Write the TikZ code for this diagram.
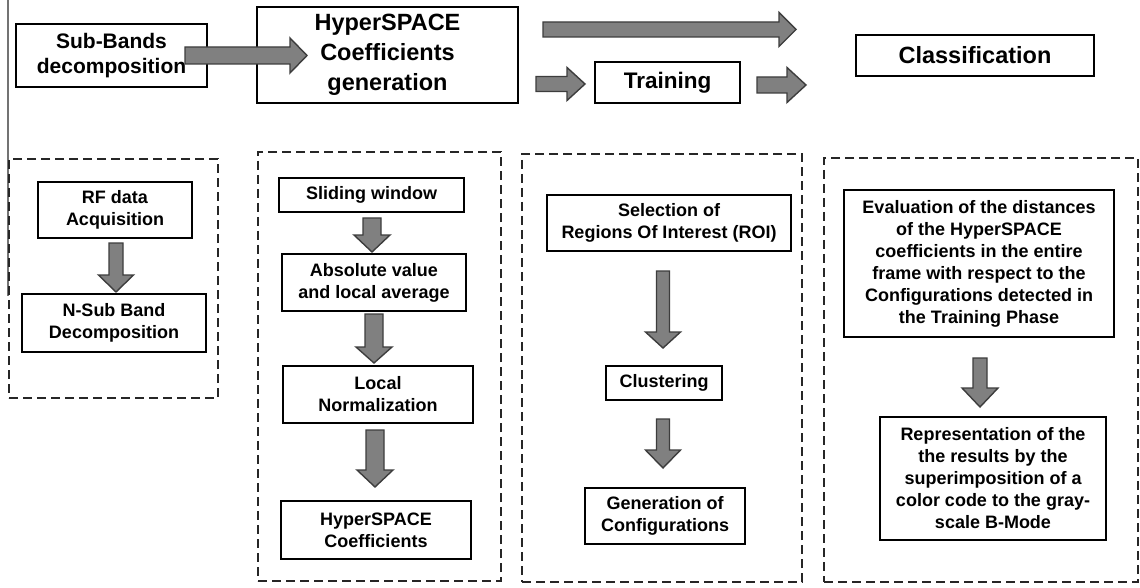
\documentclass[tikz,border=0pt]{standalone}
\usepackage{fontspec}
\setmainfont{Liberation Sans}
\usetikzlibrary{calc}
\tikzset{
  thickbox/.style={draw=black, line width=2pt, fill=white, inner sep=0pt, align=center,
    font=\bfseries\fontsize{18}{22}\selectfont},
  thinbox/.style={thickbox, line width=1.2pt},
  topbox/.style={thickbox, font=\bfseries\fontsize{21}{25}\selectfont},
  bigbox/.style={thickbox, font=\bfseries\fontsize{23.5}{30}\selectfont},
  phase/.style={draw=black!85, line width=2pt, dash pattern=on 9pt off 5pt, inner sep=0pt},
  blockarrow/.style={fill=black!50, draw=black!76, line width=1.4pt, line join=miter},
  edgeline/.style={draw=black!55, line width=1.5pt}
}
% horizontal block arrow: start, tip, body half, head half, head length
\newcommand\myharrow[5]{%
  \path[blockarrow] let \p1=(#1), \p2=(#2) in
    (\x1,\y1+#3) -- (\x2-#5,\y1+#3) -- (\x2-#5,\y1+#4) -- (\x2,\y1) --
    (\x2-#5,\y1-#4) -- (\x2-#5,\y1-#3) -- (\x1,\y1-#3) -- cycle;}
% downward block arrow: start, tip, body half, head half, head length
\newcommand\myvarrow[5]{%
  \path[blockarrow] let \p1=(#1), \p2=(#2) in
    (\x1-#3,\y1) -- (\x1-#3,\y2+#5) -- (\x1-#4,\y2+#5) -- (\x1,\y2) --
    (\x1+#4,\y2+#5) -- (\x1+#3,\y2+#5) -- (\x1+#3,\y1) -- cycle;}
\begin{document}
\begin{tikzpicture}[x=1pt,y=-1pt]
\useasboundingbox (0,0) rectangle (1140,588);
\fill[white] (0,0) rectangle (1140,588);

% left edge line
\coordinate (el1) at (8,0);
\coordinate (el2) at (8,296);
\draw[edgeline] (el1) -- (el2);

% dashed phase frames
\node[phase, minimum width=209pt, minimum height=239pt] (ph1) at (113.5,278.5) {};
\node[phase, minimum width=243pt, minimum height=429pt] (ph2) at (379.5,366.5) {};
\node[phase, minimum width=280pt, minimum height=428pt] (ph3) at (662,368) {};
\node[phase, minimum width=314pt, minimum height=424pt] (ph4) at (981,370) {};

% top row
\node[topbox, minimum width=191pt, minimum height=63pt] (sub) at (111.5,55.5) {Sub-Bands\\decomposition};
\node[bigbox, minimum width=261pt, minimum height=96pt] (hyp) at (387.5,55) {HyperSPACE\\Coefficients\\generation};
\node[topbox, minimum width=145pt, minimum height=41pt, font=\bfseries\fontsize{22.5}{26}\selectfont] (train) at (667.5,82.5) {Training};
\node[bigbox, minimum width=238pt, minimum height=41pt] (class) at (975,55.5) {Classification};

% column 1
\node[thickbox, minimum width=154pt, minimum height=56pt] (rf) at (115,210) {RF data\\Acquisition};
\node[thickbox, minimum width=184pt, minimum height=58pt] (nsub) at (114,323) {N-Sub Band\\Decomposition};

% column 2
\node[thickbox, minimum width=185pt, minimum height=34pt] (slide) at (371.5,195) {Sliding window};
\node[thickbox, minimum width=184pt, minimum height=57pt] (absv) at (374,282.5) {Absolute value\\and local average};
\node[thickbox, minimum width=190pt, minimum height=57pt] (lnorm) at (378,394.5) {Local\\Normalization};
\node[thickbox, minimum width=190pt, minimum height=58pt] (hsc) at (376,530) {HyperSPACE\\Coefficients};

% column 3
\node[thinbox, minimum width=244pt, minimum height=56pt] (roi) at (669,223) {Selection of\\Regions Of Interest (ROI)};
\node[thinbox, minimum width=116pt, minimum height=34pt] (clu) at (664,383) {Clustering};
\node[thinbox, minimum width=160pt, minimum height=56pt] (gen) at (665,516) {Generation of\\Configurations};

% column 4
\node[thickbox, minimum width=270pt, minimum height=147pt] (eval) at (979,263.5)
  {Evaluation of the distances\\of the HyperSPACE\\coefficients in the entire\\frame with respect to the\\Configurations detected in\\the Training Phase};
\node[thinbox, minimum width=226pt, minimum height=123pt] (repr) at (993,478.5)
  {Representation of the\\the results by the\\superimposition of a\\color code to the gray-\\scale B-Mode};

% arrow end points
\coordinate (h1s) at (185,55.5); \coordinate (h1e) at (307,55.5);
\coordinate (h2s) at (543,29.5); \coordinate (h2e) at (796,29.5);
\coordinate (h3s) at (536,84);   \coordinate (h3e) at (585,84);
\coordinate (h4s) at (757,85);   \coordinate (h4e) at (806,85);
\coordinate (v1s) at (116,243);  \coordinate (v1e) at (116,292);
\coordinate (v2s) at (372,218);  \coordinate (v2e) at (372,252);
\coordinate (v3s) at (374,314);  \coordinate (v3e) at (374,363);
\coordinate (v4s) at (375,430);  \coordinate (v4e) at (375,487);
\coordinate (v5s) at (663,271);  \coordinate (v5e) at (663,348);
\coordinate (v6s) at (663,419);  \coordinate (v6e) at (663,468);
\coordinate (v7s) at (980,358);  \coordinate (v7e) at (980,407);

% block arrows
\myharrow{h1s}{h1e}{8.5pt}{17.5pt}{17pt}
\myharrow{h2s}{h2e}{7.5pt}{17pt}{17pt}
\myharrow{h3s}{h3e}{7.5pt}{16.5pt}{18pt}
\myharrow{h4s}{h4e}{8pt}{17.5pt}{19pt}
\myvarrow{v1s}{v1e}{7pt}{17.5pt}{17pt}
\myvarrow{v2s}{v2e}{9pt}{18pt}{17pt}
\myvarrow{v3s}{v3e}{9pt}{18pt}{16pt}
\myvarrow{v4s}{v4e}{9pt}{18pt}{17pt}
\myvarrow{v5s}{v5e}{6.5pt}{17.5pt}{16pt}
\myvarrow{v6s}{v6e}{6.5pt}{17.5pt}{18pt}
\myvarrow{v7s}{v7e}{7pt}{18pt}{19pt}
\end{tikzpicture}
\end{document}
